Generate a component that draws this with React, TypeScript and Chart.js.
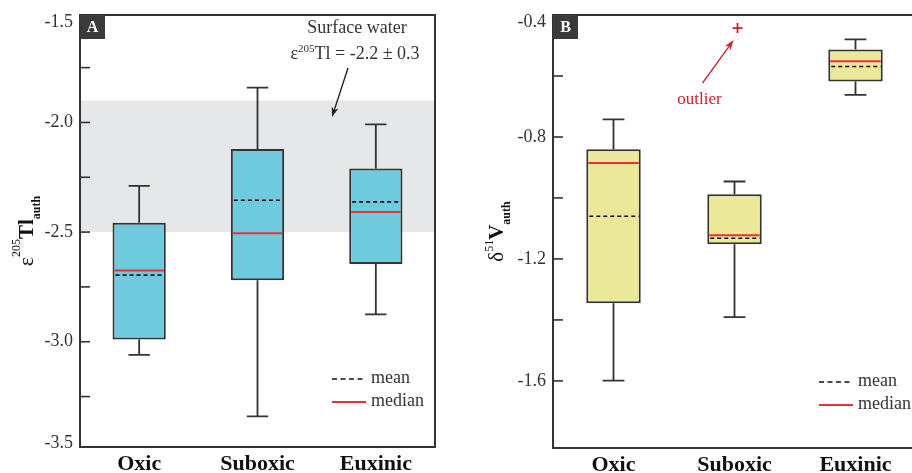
import { useEffect, useRef } from "react";
import { Chart, registerables } from "chart.js";

Chart.register(...registerables);

const categories = ["Oxic", "Suboxic", "Euxinic"];

// Panel A: ε205Tl(auth)
const tlWhiskerLow = [-3.06, -3.34, -2.875];
const tlQ1 = [-2.99, -2.72, -2.645];
const tlMedian = [-2.675, -2.505, -2.408];
const tlMean = [-2.696, -2.355, -2.362];
const tlQ3 = [-2.457, -2.121, -2.21];
const tlWhiskerHigh = [-2.289, -1.841, -2.009];
const tlTicks = [-1.5, -2.0, -2.5, -3.0, -3.5];
const tlMinorTicks = [-1.75, -2.25, -2.75, -3.25];
const tlRange = [-3.48, -1.51];
const tlSurfaceBand = [-2.5, -1.9];

// Panel B: δ51V(auth)
const vWhiskerLow = [-1.599, -1.391, -0.662];
const vQ1 = [-1.345, -1.152, -0.618];
const vMedian = [-0.885, -1.122, -0.552];
const vMean = [-1.06, -1.132, -0.569];
const vQ3 = [-0.84, -0.988, -0.513];
const vWhiskerHigh = [-0.742, -0.946, -0.48];
const vOutlierCategory = [1];
const vOutlierValue = [-0.443];
const vTicks = [-0.4, -0.8, -1.2, -1.6];
const vMinorTicks = [-0.6, -1.0, -1.4];
const vRange = [-1.82, -0.4];

const SERIF = "'Liberation Serif', 'Times New Roman', serif";
const INK = "#333333";
const RED = "#e8303a";

type Seg = { text: string; size: number; bold?: boolean; dy?: number };

function font(size: number, bold?: boolean) {
  return `${bold ? "bold " : ""}${size}px ${SERIF}`;
}

function drawSegs(ctx: CanvasRenderingContext2D, segs: Seg[], x: number, y: number, rotate: boolean, color: string) {
  ctx.save();
  ctx.translate(x, y);
  if (rotate) ctx.rotate(-Math.PI / 2);
  ctx.fillStyle = color;
  ctx.textBaseline = "alphabetic";
  ctx.textAlign = "left";
  const widths = segs.map((s) => {
    ctx.font = font(s.size, s.bold);
    return ctx.measureText(s.text).width;
  });
  const total = widths.reduce((a, b) => a + b, 0);
  let cx = -total / 2;
  segs.forEach((s, i) => {
    ctx.font = font(s.size, s.bold);
    ctx.fillText(s.text, cx, s.dy || 0);
    cx += widths[i];
  });
  ctx.restore();
}

function arrow(ctx: CanvasRenderingContext2D, x1: number, y1: number, x2: number, y2: number, color: string) {
  const ang = Math.atan2(y2 - y1, x2 - x1);
  const len = 10;
  const hw = 3.5;
  ctx.save();
  ctx.strokeStyle = color;
  ctx.fillStyle = color;
  ctx.lineWidth = 1.4;
  ctx.beginPath();
  ctx.moveTo(x1, y1);
  ctx.lineTo(x2 - Math.cos(ang) * len * 0.7, y2 - Math.sin(ang) * len * 0.7);
  ctx.stroke();
  ctx.beginPath();
  ctx.moveTo(x2, y2);
  ctx.lineTo(x2 - Math.cos(ang) * len - Math.sin(ang) * hw, y2 - Math.sin(ang) * len + Math.cos(ang) * hw);
  ctx.lineTo(x2 - Math.cos(ang) * len * 0.7, y2 - Math.sin(ang) * len * 0.7);
  ctx.lineTo(x2 - Math.cos(ang) * len + Math.sin(ang) * hw, y2 - Math.sin(ang) * len - Math.cos(ang) * hw);
  ctx.closePath();
  ctx.fill();
  ctx.restore();
}

type Panel = {
  key: string;
  low: number[];
  q1: number[];
  med: number[];
  mean: number[];
  q3: number[];
  high: number[];
  ticks: number[];
  minor: number[];
  range: number[];
  fill: string;
  padding: { left: number; right: number; top: number; bottom: number };
  title: Seg[];
  titleX: number;
  legendDx: number;
  legendY: number;
  band?: number[];
  outCat?: number[];
  outVal?: number[];
};

function makePlugin(p: Panel) {
  return {
    id: "panel" + p.key,
    beforeDatasetsDraw(chart: any) {
      const { ctx, chartArea: ca, scales } = chart;
      if (p.band) {
        const yTop = scales.y.getPixelForValue(p.band[1]);
        const yBot = scales.y.getPixelForValue(p.band[0]);
        ctx.save();
        ctx.fillStyle = "#e6e7e8";
        ctx.fillRect(ca.left, yTop, ca.right - ca.left, yBot - yTop);
        ctx.restore();
      }
    },
    afterDatasetsDraw(chart: any) {
      const { ctx, chartArea: ca, scales } = chart;
      const xs = scales.x;
      const ys = scales.y;
      const meta = chart.getDatasetMeta(0);
      ctx.save();
      categories.forEach((_, i) => {
        const x = xs.getPixelForValue(i);
        const w = meta.data[i].width;
        const cap = w * 0.4;
        ctx.strokeStyle = INK;
        ctx.lineWidth = 1.8;
        ctx.setLineDash([]);
        const yq3 = ys.getPixelForValue(p.q3[i]);
        const yq1 = ys.getPixelForValue(p.q1[i]);
        const yh = ys.getPixelForValue(p.high[i]);
        const yl = ys.getPixelForValue(p.low[i]);
        ctx.beginPath();
        ctx.moveTo(x, yq3);
        ctx.lineTo(x, yh);
        ctx.moveTo(x - cap / 2, yh);
        ctx.lineTo(x + cap / 2, yh);
        ctx.moveTo(x, yq1);
        ctx.lineTo(x, yl);
        ctx.moveTo(x - cap / 2, yl);
        ctx.lineTo(x + cap / 2, yl);
        ctx.stroke();
        // median
        const ym = ys.getPixelForValue(p.med[i]);
        ctx.strokeStyle = RED;
        ctx.lineWidth = 2;
        ctx.beginPath();
        ctx.moveTo(x - w / 2 + 2, ym);
        ctx.lineTo(x + w / 2 - 2, ym);
        ctx.stroke();
        // mean
        const ymean = ys.getPixelForValue(p.mean[i]);
        ctx.strokeStyle = "#111";
        ctx.lineWidth = 1.6;
        ctx.setLineDash([4, 3]);
        ctx.beginPath();
        ctx.moveTo(x - w / 2 + 3, ymean);
        ctx.lineTo(x + w / 2 - 2, ymean);
        ctx.stroke();
        ctx.setLineDash([]);
      });

      // outliers
      if (p.outCat && p.outVal) {
        p.outCat.forEach((c, k) => {
          const ox = xs.getPixelForValue(c) + 3;
          const oy = ys.getPixelForValue(p.outVal![k]);
          ctx.strokeStyle = "#cc2030";
          ctx.lineWidth = 1.8;
          ctx.beginPath();
          ctx.moveTo(ox - 5, oy);
          ctx.lineTo(ox + 5, oy);
          ctx.moveTo(ox, oy - 5);
          ctx.lineTo(ox, oy + 5);
          ctx.stroke();
          arrow(ctx, ox - 35, oy + 55, ox - 4, oy + 12, "#cc2030");
          ctx.fillStyle = "#cc2030";
          ctx.font = font(17);
          ctx.textAlign = "center";
          ctx.textBaseline = "middle";
          ctx.fillText("outlier", ox - 38, oy + 71);
        });
      }

      // frame
      ctx.strokeStyle = INK;
      ctx.lineWidth = 2;
      ctx.strokeRect(ca.left, ca.top, ca.right - ca.left, ca.bottom - ca.top);

      // inward ticks
      ctx.lineWidth = 1.6;
      [...p.ticks, ...p.minor].forEach((v) => {
        const y = ys.getPixelForValue(v);
        if (y < ca.top + 1 || y > ca.bottom - 1) return;
        ctx.beginPath();
        ctx.moveTo(ca.left, y);
        ctx.lineTo(ca.left + 10, y);
        ctx.stroke();
      });

      // tick labels
      ctx.fillStyle = INK;
      ctx.font = font(18);
      ctx.textAlign = "right";
      ctx.textBaseline = "middle";
      p.ticks.forEach((v) => {
        let y = ys.getPixelForValue(v);
        y = Math.min(Math.max(y, ca.top + 7), ca.bottom - 4);
        ctx.fillText(v.toFixed(1), ca.left - 7, y);
      });

      // category labels
      ctx.fillStyle = "#111";
      ctx.font = font(22, true);
      ctx.textAlign = "center";
      ctx.textBaseline = "middle";
      categories.forEach((c, i) => {
        ctx.fillText(c, xs.getPixelForValue(i), ca.bottom + 17);
      });

      // y title
      drawSegs(ctx, p.title, p.titleX, (ca.top + ca.bottom) / 2, true, "#111");

      // panel letter
      ctx.fillStyle = "#3a3a3a";
      ctx.fillRect(ca.left, ca.top, 25, 24);
      ctx.fillStyle = "#ffffff";
      ctx.font = font(16, true);
      ctx.textAlign = "center";
      ctx.textBaseline = "middle";
      ctx.fillText(p.key, ca.left + 12.5, ca.top + 13);

      // legend
      const lx = ca.left + p.legendDx;
      ctx.strokeStyle = "#111";
      ctx.lineWidth = 1.5;
      ctx.setLineDash([5, 3.5]);
      ctx.beginPath();
      ctx.moveTo(lx, p.legendY);
      ctx.lineTo(lx + 32, p.legendY);
      ctx.stroke();
      ctx.setLineDash([]);
      ctx.strokeStyle = RED;
      ctx.lineWidth = 1.8;
      ctx.beginPath();
      ctx.moveTo(lx, p.legendY + 23);
      ctx.lineTo(lx + 34, p.legendY + 23);
      ctx.stroke();
      ctx.fillStyle = INK;
      ctx.font = font(18);
      ctx.textAlign = "left";
      ctx.textBaseline = "middle";
      ctx.fillText("mean", lx + 39, p.legendY - 1);
      ctx.fillText("median", lx + 39, p.legendY + 22);

      // surface water annotation
      if (p.band) {
        const ax = ca.right - 78;
        ctx.fillStyle = INK;
        ctx.font = font(18);
        ctx.textAlign = "center";
        ctx.textBaseline = "middle";
        ctx.fillText("Surface water", ax, ca.top + 13);
        drawSegs(
          ctx,
          [
            { text: "ε", size: 18 },
            { text: "205", size: 11, dy: -7 },
            { text: "Tl = -2.2 ± 0.3", size: 18 },
          ],
          ax - 2,
          ca.top + 44,
          false,
          INK
        );
        arrow(ctx, ax - 9, ca.top + 53, ax - 25, ca.top + 102, "#222");
      }
      ctx.restore();
    },
  };
}

const panelA: Panel = {
  key: "A",
  low: tlWhiskerLow,
  q1: tlQ1,
  med: tlMedian,
  mean: tlMean,
  q3: tlQ3,
  high: tlWhiskerHigh,
  ticks: tlTicks,
  minor: tlMinorTicks,
  range: tlRange,
  fill: "#6fcadd",
  padding: { left: 80, right: 21, top: 15, bottom: 33 },
  title: [
    { text: "ε", size: 22 },
    { text: "205", size: 12, dy: -13 },
    { text: "Tl", size: 21, bold: true },
    { text: "auth", size: 12, bold: true, dy: 7 },
  ],
  titleX: 33,
  legendDx: 252,
  legendY: 379,
  band: tlSurfaceBand,
};

const panelB: Panel = {
  key: "B",
  low: vWhiskerLow,
  q1: vQ1,
  med: vMedian,
  mean: vMean,
  q3: vQ3,
  high: vWhiskerHigh,
  ticks: vTicks,
  minor: vMinorTicks,
  range: vRange,
  fill: "#ece89a",
  padding: { left: 97, right: 10, top: 15, bottom: 32 },
  title: [
    { text: "δ", size: 21 },
    { text: "51", size: 12, dy: -10 },
    { text: "V", size: 21, bold: true },
    { text: "auth", size: 12, bold: true, dy: 7 },
  ],
  titleX: 47,
  legendDx: 266,
  legendY: 382,
  outCat: vOutlierCategory,
  outVal: vOutlierValue,
};

function PanelChart({ p, width, height }: { p: Panel; width: number; height: number }) {
  const ref = useRef<HTMLCanvasElement | null>(null);
  useEffect(() => {
    if (!ref.current) return;
    const chart = new Chart(ref.current, {
      type: "bar",
      data: {
        labels: categories,
        datasets: [
          {
            data: categories.map((_, i) => [p.q1[i], p.q3[i]]) as any,
            backgroundColor: p.fill,
            borderColor: INK,
            borderWidth: 2,
            borderSkipped: false,
            barPercentage: 0.9,
            categoryPercentage: 0.5,
          },
        ],
      },
      options: {
        responsive: false,
        animation: false,
        devicePixelRatio: 1,
        layout: { padding: p.padding },
        plugins: {
          legend: { display: false },
          tooltip: { enabled: false },
        },
        scales: {
          x: { display: false, offset: true },
          y: { display: false, min: p.range[0], max: p.range[1] },
        },
      },
      plugins: [makePlugin(p)],
    });
    return () => chart.destroy();
  }, [p]);
  return <canvas ref={ref} width={width} height={height} style={{ width, height, display: "block" }} />;
}

export default function App() {
  return (
    <div
      style={{
        position: "absolute",
        left: 0,
        top: 0,
        width: 912,
        height: 473,
        overflow: "hidden",
        background: "#ffffff",
      }}
    >
      <div style={{ position: "absolute", left: 0, top: 0 }}>
        <PanelChart p={panelA} width={456} height={480} />
      </div>
      <div style={{ position: "absolute", left: 456, top: 0 }}>
        <PanelChart p={panelB} width={470} height={480} />
      </div>
    </div>
  );
}
